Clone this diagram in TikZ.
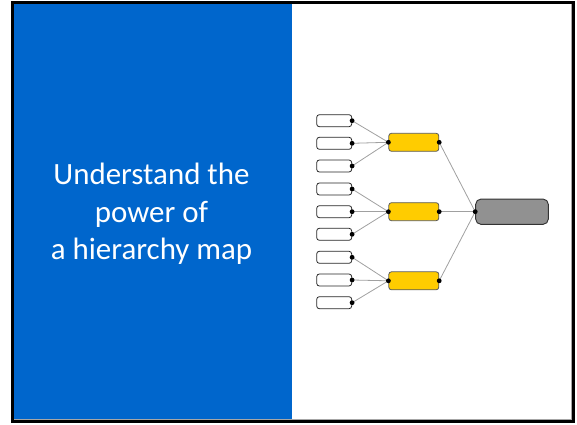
\documentclass[tikz,border=0pt]{standalone}
\usepackage{fontspec}
\setmainfont{Carlito}
\usepackage{tikz}

\definecolor{panelblue}{RGB}{0,102,204}
\definecolor{midyellow}{RGB}{255,204,0}
\definecolor{rootgray}{RGB}{145,145,145}
\definecolor{linkgray}{RGB}{160,160,160}

\begin{document}
\begin{tikzpicture}[x=0.75pt,y=0.75pt,yscale=-1,xscale=1,
  leaf/.style={draw=black!85, fill=white, rounded corners=2pt, minimum width=26.25pt, minimum height=9pt, inner sep=0pt, line width=0.6pt},
  mid/.style={draw=black!65, fill=midyellow, rounded corners=2pt, minimum width=37.5pt, minimum height=13.5pt, inner sep=0pt, line width=0.6pt},
  root/.style={draw=black!80, fill=rootgray, rounded corners=4pt, minimum width=54.5pt, minimum height=19pt, inner sep=0pt, line width=0.7pt},
  link/.style={draw=linkgray, line width=0.6pt},
  dot/.style={fill=black}]
\useasboundingbox (0,0) rectangle (577,424);

%Blue panel and frame
\fill[panelblue] (14,4) rectangle (292,420);
\draw[line width=2.25pt] (12.5,2.5) rectangle (573.5,421.5);
\draw[black!35, line width=0.75pt] (571.5,4) -- (571.5,419.5) -- (14,419.5);

% Text Node
\node[text=white, align=center, font=\fontsize{23.2}{28}\selectfont] (title) at (151.5,214) {Understand the\\power of\\a hierarchy map};

%Leaf boxes
\node[leaf] (l1) at (334.2,120.7) {};
\node[leaf] (l2) at (334.2,143.3) {};
\node[leaf] (l3) at (334.2,166) {};
\node[leaf] (l4) at (334.2,189) {};
\node[leaf] (l5) at (334.2,211.7) {};
\node[leaf] (l6) at (334.2,234.3) {};
\node[leaf] (l7) at (334.2,257.3) {};
\node[leaf] (l8) at (334.2,280) {};
\node[leaf] (l9) at (334.2,302.7) {};

%Middle boxes
\node[mid] (m1) at (413.8,142.3) {};
\node[mid] (m2) at (413.8,211.7) {};
\node[mid] (m3) at (413.8,280.8) {};

%Root box
\node[root] (top) at (512,211.7) {};

%Straight Lines
\draw[link] (l1.east) -- (m1.west);
\draw[link] (l2.east) -- (m1.west);
\draw[link] (l3.east) -- (m1.west);
\draw[link] (l4.east) -- (m2.west);
\draw[link] (l5.east) -- (m2.west);
\draw[link] (l6.east) -- (m2.west);
\draw[link] (l7.east) -- (m3.west);
\draw[link] (l8.east) -- (m3.west);
\draw[link] (l9.east) -- (m3.west);
\draw[link] (m1.east) -- (top.west);
\draw[link] (m2.east) -- (top.west);
\draw[link] (m3.east) -- (top.west);

%Dots
\fill[dot] (l1.east) circle (2.4);
\fill[dot] (l2.east) circle (2.4);
\fill[dot] (l3.east) circle (2.4);
\fill[dot] (l4.east) circle (2.4);
\fill[dot] (l5.east) circle (2.4);
\fill[dot] (l6.east) circle (2.4);
\fill[dot] (l7.east) circle (2.4);
\fill[dot] (l8.east) circle (2.4);
\fill[dot] (l9.east) circle (2.4);
\fill[dot] (m1.west) circle (2.4);
\fill[dot] (m1.east) circle (2.4);
\fill[dot] (m2.west) circle (2.4);
\fill[dot] (m2.east) circle (2.4);
\fill[dot] (m3.west) circle (2.4);
\fill[dot] (m3.east) circle (2.4);
\fill[dot] (top.west) circle (2.4);

\end{tikzpicture}
\end{document}
